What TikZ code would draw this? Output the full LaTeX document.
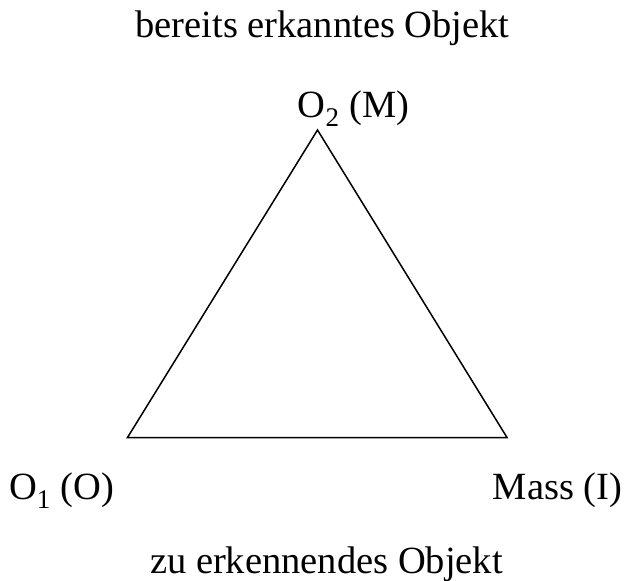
\documentclass[tikz,border=0pt]{standalone}
\usepackage{fontspec}
\setmainfont{Liberation Serif}
\begin{document}
\begin{tikzpicture}[x=1pt,y=-1pt,
  lbl/.style={font=\fontsize{38.5}{44}\selectfont, inner sep=0pt, anchor=base},
  edge/.style={draw=black, line width=1.5pt, line join=miter}]
\useasboundingbox (0,0) rectangle (624,581);
\coordinate (T) at (317.5,130);
\coordinate (L) at (127.5,437.5);
\coordinate (R) at (507,437.5);
\draw[edge] (T) -- (L) -- (R) -- cycle;
\node[lbl] (top) at (322.5,37) {bereits erkanntes Objekt};
\node[lbl] (m) at (353.5,117) {O\textsubscript{2} (M)};
\node[lbl] (o) at (61.5,499) {O\textsubscript{1} (O)};
\node[lbl] (i) at (557.5,499) {Mass (I)};
\node[lbl] (bot) at (326.5,573) {zu erkennendes Objekt};
\end{tikzpicture}
\end{document}
